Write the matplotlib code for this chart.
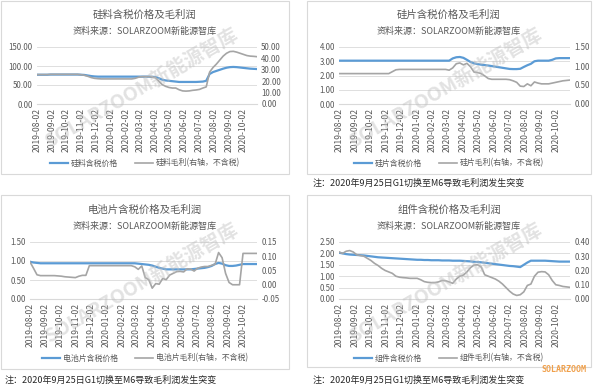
import numpy as np
import pandas as pd
import matplotlib
matplotlib.use('Agg')
import matplotlib.pyplot as plt
import matplotlib.dates as mdates
from matplotlib.patches import Rectangle
from matplotlib.ticker import MultipleLocator, FormatStrFormatter

plt.rcParams['font.family'] = ['Noto Sans CJK SC', 'DejaVu Sans']

# weekly observations
dates = pd.date_range('2019-08-02', periods=66, freq='7D')

# 硅料 (元/kg)
poly_price = [77.0, 77.0, 77.0, 77.0, 77.5, 77.5, 77.5, 77.5, 77.5, 77.5,
              77.5, 77.5, 77.5, 77.0, 76.5, 75.0, 73.5, 72.5, 72.0, 72.0,
              72.0, 72.0, 72.0, 72.0, 72.0, 72.0, 72.0, 72.0, 72.0, 72.0,
              72.0, 72.0, 72.0, 72.0, 71.5, 71.0, 68.0, 64.0, 62.0, 61.0,
              60.0, 59.0, 58.0, 58.0, 58.0, 58.0, 58.0, 58.0, 58.5, 59.0,
              61.0, 79.0, 84.0, 87.0, 90.0, 93.0, 95.5, 97.0, 97.5, 97.0,
              96.0, 95.0, 94.0, 93.0, 92.5, 92.0]
poly_margin = [25.8, 25.8, 25.8, 25.8, 26.0, 26.0, 26.0, 26.0, 26.0, 26.0,
               26.0, 26.0, 26.0, 25.7, 25.2, 24.3, 23.2, 22.5, 22.2, 22.0,
               22.0, 22.0, 22.0, 22.0, 22.0, 22.0, 22.0, 22.0, 22.0, 22.5,
               23.5, 24.0, 24.0, 24.0, 23.8, 23.0, 20.0, 17.0, 15.5, 14.5,
               14.0, 14.0, 12.5, 11.5, 11.3, 11.5, 12.0, 12.3, 12.8, 14.0,
               15.0, 28.0, 32.0, 35.0, 38.5, 42.0, 44.5, 46.0, 46.2, 45.5,
               44.5, 43.5, 42.5, 42.0, 41.8, 41.5]

# 硅片 (元/片)
wafer_price = [3.04] * 32 + [3.20, 3.28, 3.30, 3.24, 3.10, 2.95, 2.85, 2.80,
               2.76, 2.73, 2.70, 2.66, 2.62, 2.58, 2.54, 2.50, 2.46, 2.45,
               2.45, 2.47, 2.60, 2.72, 2.82, 3.00, 3.04, 3.04, 3.04, 3.04,
               3.10, 3.20, 3.22, 3.22, 3.22, 3.22]
wafer_margin = [0.80] * 15 + [0.85, 0.90] + [0.91] * 14 + [
                0.89, 0.95, 1.06, 1.08, 1.03, 1.07, 0.98, 0.84, 0.83, 0.80,
                0.74, 0.67, 0.65, 0.65, 0.65, 0.65, 0.65, 0.64, 0.61, 0.57,
                0.47, 0.46, 0.53, 0.48, 0.58, 0.55, 0.53, 0.53, 0.53, 0.55,
                0.57, 0.59, 0.61, 0.62, 0.63]

# 电池片 (元/W)
cell_price = [0.98, 0.96, 0.95] + [0.94] * 28 + [
              0.93, 0.92, 0.91, 0.90, 0.88, 0.85, 0.82, 0.80] + [0.78] * 8 + [
              0.79, 0.80, 0.81, 0.82, 0.84, 0.87, 0.92, 0.95, 0.93, 0.89,
              0.87, 0.87, 0.88, 0.90] + [0.92] * 5
cell_margin = [0.080, 0.058, 0.035, 0.032, 0.032, 0.032, 0.032, 0.032, 0.031, 0.030,
               0.028, 0.027, 0.026, 0.025, 0.030, 0.033, 0.033, 0.067, 0.067, 0.067,
               0.067, 0.067, 0.067, 0.067, 0.067, 0.067, 0.067, 0.067, 0.067, 0.067,
               0.063, 0.054, 0.066, 0.025, 0.018, -0.012, 0.004, 0.002, 0.022, 0.018,
               0.034, 0.040, 0.046, 0.047, 0.045, 0.056, 0.055, 0.048, 0.058, 0.062,
               0.064, 0.064, 0.068, 0.072, 0.113, 0.095, 0.040, 0.008, 0.000, 0.000,
               0.000, 0.110, 0.110, 0.110, 0.110, 0.110]

# 组件 (元/W)
module_price = [2.03, 2.00, 1.97, 1.95, 1.94, 1.93, 1.92, 1.91, 1.89, 1.87,
                1.85, 1.83, 1.82, 1.81, 1.80, 1.79, 1.78, 1.77, 1.76, 1.75,
                1.74, 1.73, 1.72, 1.72, 1.71, 1.71, 1.70, 1.70, 1.70, 1.69,
                1.69, 1.69, 1.68, 1.68, 1.68, 1.67, 1.66, 1.65, 1.63, 1.62,
                1.61, 1.59, 1.57, 1.55, 1.53, 1.51, 1.49, 1.47, 1.45, 1.44,
                1.42, 1.40, 1.50, 1.60, 1.68, 1.68, 1.68, 1.68, 1.68, 1.67,
                1.66, 1.65, 1.64, 1.64, 1.64, 1.64]
module_margin = [0.330, 0.320, 0.335, 0.340, 0.330, 0.310, 0.305, 0.300, 0.285, 0.270,
                 0.250, 0.235, 0.215, 0.200, 0.190, 0.180, 0.160, 0.153, 0.150, 0.148,
                 0.145, 0.145, 0.145, 0.135, 0.122, 0.117, 0.115, 0.115, 0.120, 0.130,
                 0.128, 0.120, 0.110, 0.140, 0.160, 0.168, 0.190, 0.220, 0.238, 0.240,
                 0.225, 0.170, 0.160, 0.150, 0.140, 0.125, 0.105, 0.080, 0.055, 0.035,
                 0.025, 0.030, 0.050, 0.095, 0.105, 0.160, 0.188, 0.192, 0.190, 0.170,
                 0.130, 0.100, 0.095, 0.088, 0.085, 0.082]

subtitle = '资料来源：SOLARZOOM新能源智库'
note = '注：2020年9月25日G1切换至M6导致毛利润发生突变'
BLUE = '#5B9BD5'
GRAY = '#A5A5A5'
TXT = '#595959'

W, H = 600, 391
def fx(x): return x / W
def fy(y): return 1 - y / H

fig = plt.figure(figsize=(6, 3.91), dpi=100)

panels = [
    dict(name='硅料', price=poly_price, margin=poly_margin,
         lim1=(0, 150, 50), lim2=(0, 50, 10),
         plot=(37, 47, 257, 104), box=(1, 1, 289, 174), top=0),
    dict(name='硅片', price=wafer_price, margin=wafer_margin,
         lim1=(0, 4, 1), lim2=(0, 1.5, 0.5),
         plot=(339, 47, 570, 104), box=(307, 1, 591, 174), top=0),
    dict(name='电池片', price=cell_price, margin=cell_margin,
         lim1=(0, 1.5, 0.5), lim2=(-0.05, 0.15, 0.05),
         plot=(30, 242, 257, 299), box=(1, 195, 289, 369), top=195),
    dict(name='组件', price=module_price, margin=module_margin,
         lim1=(0, 2.5, 0.5), lim2=(0, 0.4, 0.1),
         plot=(339, 242, 570, 299), box=(307, 195, 591, 367), top=195),
]

for p in panels:
    bx0, by0, bx1, by1 = p['box']
    fig.patches.append(Rectangle((fx(bx0), fy(by1)), (bx1 - bx0) / W, (by1 - by0) / H,
                                 transform=fig.transFigure, fill=False,
                                 edgecolor='#D9D9D9', lw=0.8))
    cx = (bx0 + bx1) / 2
    t = p['top']
    fig.text(fx(cx), fy(t + 15), p['name'] + '含税价格及毛利润', ha='center', va='center',
             fontsize=7.5, color=TXT)
    fig.text(fx(cx), fy(t + 31), subtitle, ha='center', va='center', fontsize=6.5, color=TXT)

    x0, y0, x1, y1 = p['plot']
    ax = fig.add_axes([fx(x0), fy(y1), (x1 - x0) / W, (y1 - y0) / H])
    l1, = ax.plot(dates, p['price'], color=BLUE, lw=1.6, label=p['name'] + '含税价格')
    ax2 = ax.twinx()
    l2, = ax2.plot(dates, p['margin'], color=GRAY, lw=1.2,
                   label=p['name'] + '毛利(右轴，不含税)')

    for a, lim in ((ax, p['lim1']), (ax2, p['lim2'])):
        a.set_ylim(lim[0], lim[1])
        a.yaxis.set_major_locator(MultipleLocator(lim[2]))
        a.yaxis.set_major_formatter(FormatStrFormatter('%.2f'))
        a.tick_params(length=0, labelsize=5.7, colors=TXT, pad=3)
        for s in a.spines.values():
            s.set_visible(False)
    ax.spines['bottom'].set_visible(True)
    ax.spines['bottom'].set_color('#D9D9D9')
    ax.grid(axis='y', color='#D9D9D9', lw=0.6)
    ax.set_axisbelow(True)
    ax.set_xlim(dates[0], dates[-1])
    ax.xaxis.set_major_locator(mdates.MonthLocator(bymonthday=2))
    ax.xaxis.set_major_formatter(mdates.DateFormatter('%Y-%m-%d'))
    ax.tick_params(axis='x', labelsize=6.2)
    plt.setp(ax.get_xticklabels(), rotation=90)

    fig.legend([l1, l2], [l1.get_label(), l2.get_label()], loc='center',
               bbox_to_anchor=(fx(cx), fy(t + 163)), ncol=2, frameon=False,
               fontsize=5.7, handlelength=2.3, handletextpad=0.3,
               columnspacing=2.2, labelcolor=TXT)

    # watermark
    fig.text(fx(cx - 3), fy(t + 88), 'SOLARZOOM新能源智库', rotation=30,
             fontsize=14, fontweight='bold', color='#BFBFBF', alpha=0.45,
             ha='center', va='center', zorder=10)

fig.text(fx(313), fy(183), note, fontsize=6.5, color='#262626', va='center')
fig.text(fx(5), fy(380), note, fontsize=6.5, color='#262626', va='center')
fig.text(fx(313), fy(380), note, fontsize=6.5, color='#262626', va='center')
fig.text(fx(564), fy(369), 'SOLARZOOM', family='DejaVu Sans Mono', fontweight='bold',
         fontsize=6, color='#F0A04B', ha='center', va='center')

fig.savefig('out.png', dpi=100)
